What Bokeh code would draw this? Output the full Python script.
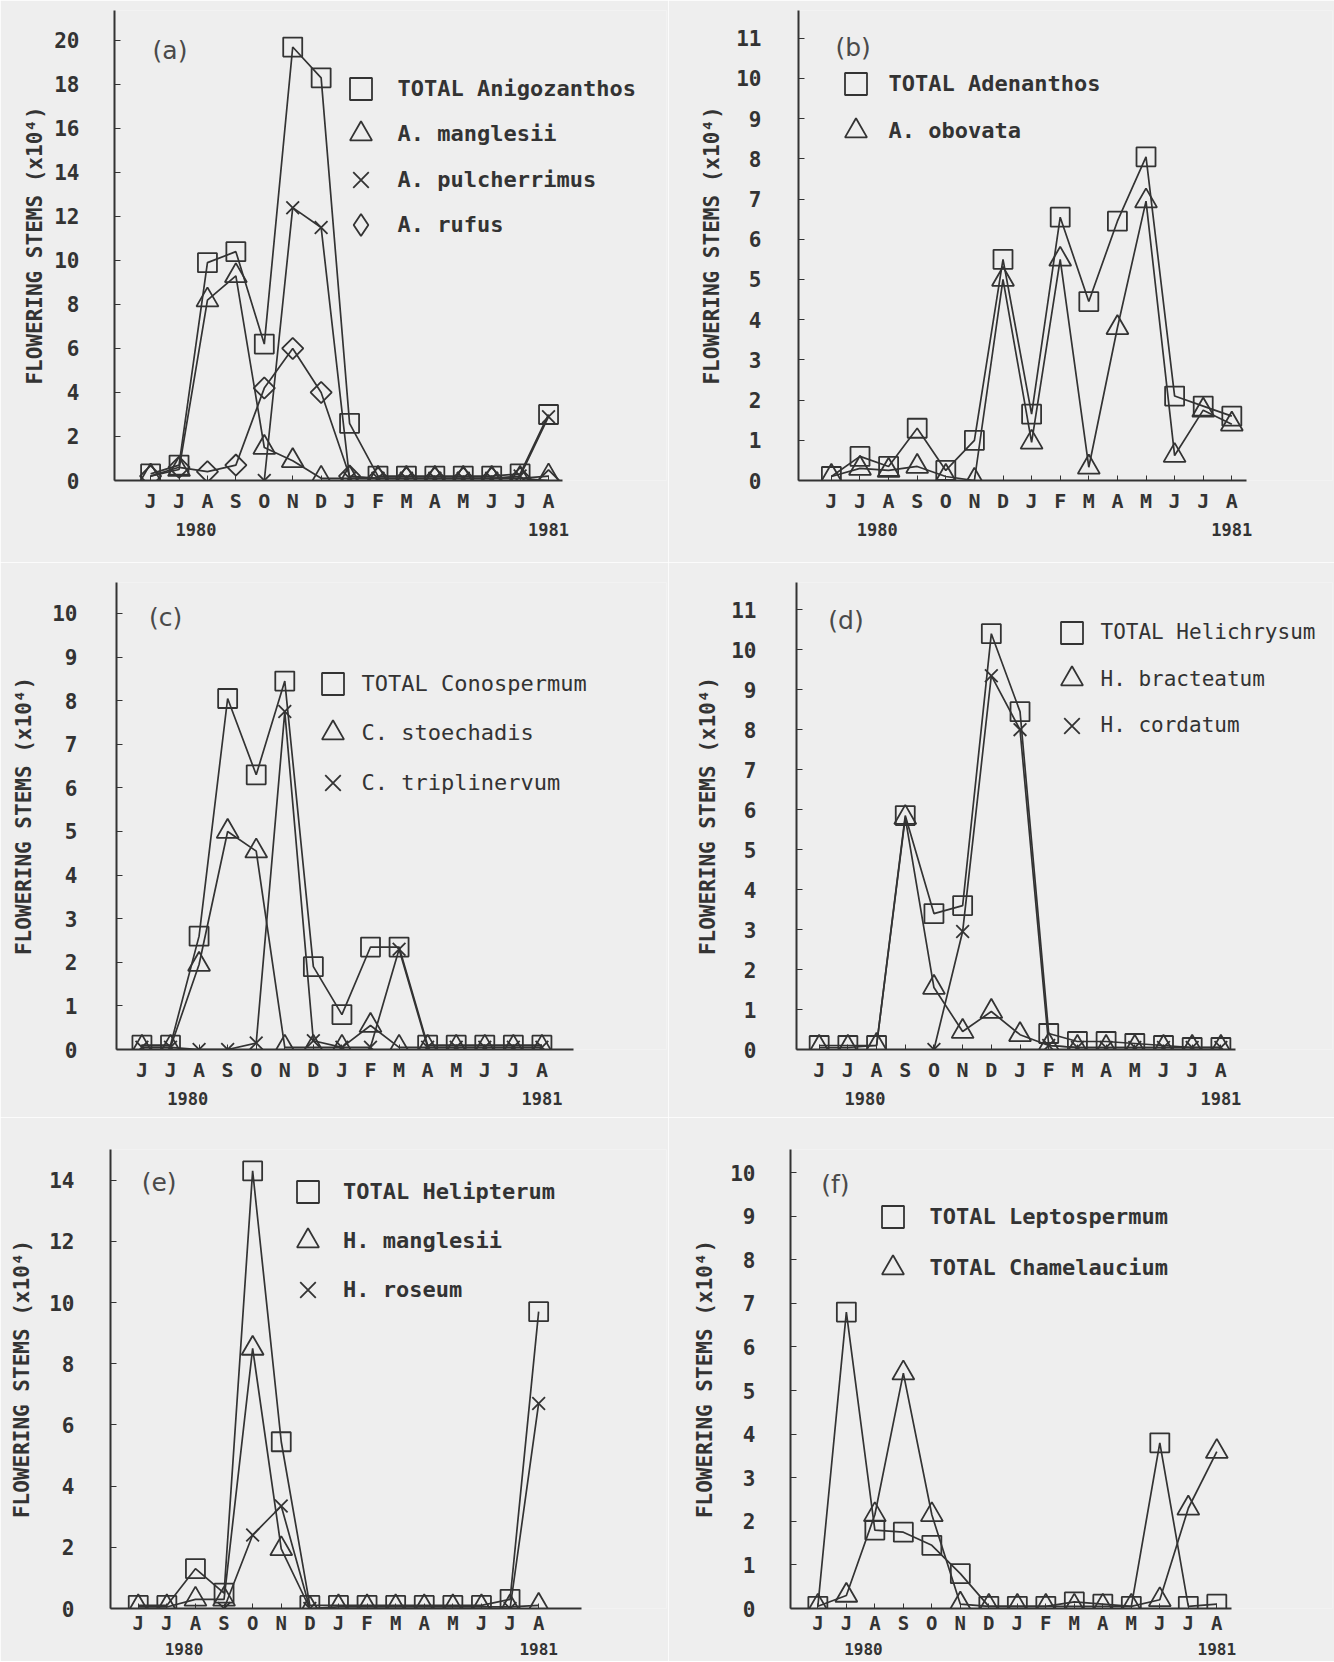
import numpy as np
from bokeh.plotting import figure
from bokeh.models import Range1d, FixedTicker, LinearAxis, Legend, LegendItem, Label
from bokeh.layouts import column, row
from bokeh.embed import file_html
from bokeh.resources import INLINE

# ---------------- data ----------------
months = ["J", "J", "A", "S", "O", "N", "D", "J", "F", "M", "A", "M", "J", "J", "A"]
year_ticks = [1.6, 14]
year_labels = ["1980", "1981"]
x = list(range(len(months)))

# (a) Anigozanthos
anig_total = [0.3, 0.7, 9.9, 10.4, 6.2, 19.7, 18.3, 2.6, 0.2, 0.2, 0.2, 0.2, 0.2, 0.3, 3.0]
anig_manglesii = [0.2, 0.5, 8.2, 9.3, 1.5, 0.9, 0.1, 0.1, 0.1, 0.1, 0.1, 0.1, 0.1, 0.1, 0.2]
anig_pulcherrimus = [None, None, None, None, 0.0, 12.4, 11.5, 0.1, 0.1, 0.1, 0.1, 0.1, 0.1, 0.2, 2.9]
anig_rufus = [0.2, 0.6, 0.4, 0.7, 4.2, 6.0, 4.0, 0.2, 0.1, 0.1, 0.1, 0.1, 0.1, 0.1, 0.0]

# (b) Adenanthos
aden_total = [0.1, 0.6, 0.35, 1.3, 0.25, 1.0, 5.5, 1.65, 6.55, 4.45, 6.45, 8.05, 2.1, 1.85, 1.6]
aden_obovata = [0.1, 0.3, 0.25, 0.35, 0.1, 0.0, 5.0, 0.95, 5.5, 0.33, 3.8, 6.95, 0.62, 1.75, 1.4]

# (c) Conospermum
cono_total = [0.1, 0.1, 2.6, 8.05, 6.3, 8.45, 1.9, 0.8, 2.35, 2.35, 0.1, 0.1, 0.1, 0.1, 0.1]
cono_stoechadis = [0.05, 0.05, 1.95, 5.0, 4.55, 0.05, 0.05, 0.05, 0.55, 0.05, 0.05, 0.05, 0.05, 0.05, 0.05]
cono_triplinervum = [0.05, 0.05, 0.0, 0.0, 0.15, 7.75, 0.2, 0.05, 0.05, 2.3, 0.05, 0.05, 0.05, 0.05, 0.05]

# (d) Helichrysum
heli_total = [0.1, 0.1, 0.1, 5.85, 3.4, 3.6, 10.4, 8.45, 0.4, 0.2, 0.2, 0.15, 0.1, 0.05, 0.05]
heli_bracteatum = [0.05, 0.05, 0.1, 5.8, 1.55, 0.45, 0.95, 0.37, 0.1, 0.05, 0.05, 0.05, 0.05, 0.05, 0.05]
heli_cordatum = [None, None, None, None, 0.0, 2.95, 9.35, 8.0, 0.1, 0.05, 0.05, 0.05, 0.05, 0.05, 0.05]

# (e) Helipterum
help_total = [0.1, 0.1, 1.3, 0.5, 14.3, 5.45, 0.1, 0.1, 0.1, 0.1, 0.1, 0.1, 0.1, 0.3, 9.7]
help_manglesii = [0.05, 0.05, 0.3, 0.3, 8.5, 1.95, 0.0, 0.05, 0.05, 0.05, 0.05, 0.05, 0.05, 0.05, 0.1]
help_roseum = [None, None, None, 0.0, 2.4, 3.35, 0.0, None, None, None, None, None, None, 0.0, 6.7]

# (f) Leptospermum / Chamelaucium
lepto_total = [0.05, 6.8, 1.8, 1.75, 1.45, 0.8, 0.05, 0.05, 0.05, 0.15, 0.1, 0.05, 3.8, 0.05, 0.1]
chamel_total = [0.05, 0.3, 2.15, 5.4, 2.15, 0.1, 0.05, 0.05, 0.05, 0.05, 0.05, 0.05, 0.2, 2.3, 3.6]

# ---------------- style ----------------
INK = "#333333"
BG = "#eeeeee"
MONO = "DejaVu Sans Mono"
MARKERS = {
    "square": dict(marker="square", size=19, angle=0.0),
    "triangle": dict(marker="triangle", size=22, angle=0.0),
    "x": dict(marker="x", size=18, angle=0.0),
    "diamond": dict(marker="square", size=15, angle=np.pi / 4),
}
GLYPH = 55  # legend glyph box -> key marker ~22px


def to_arr(vals):
    return np.array([np.nan if v is None else v for v in vals], dtype=float)


def build(letter, series, yticks, g):
    p = figure(width=g["w"], height=g["h"],
               x_range=Range1d(*g["xr"]), y_range=Range1d(0, g["ytop"]),
               output_backend="svg", toolbar_location=None,
               min_border_left=g["bl"], min_border_right=g["br"],
               min_border_top=g["bt"], min_border_bottom=g["bb"],
               background_fill_color=BG, border_fill_color=BG,
               outline_line_color=None)
    p.xgrid.visible = False
    p.ygrid.visible = False

    xa = p.xaxis[0]
    xa.ticker = FixedTicker(ticks=x)
    xa.bounds = (g["xr"][0], g["xend"])
    xa.major_label_overrides = {i: m for i, m in zip(x, months)}
    xa.axis_line_color = INK
    xa.axis_line_width = 2
    xa.major_tick_in = 5
    xa.major_tick_out = 0
    xa.major_tick_line_color = INK
    xa.minor_tick_line_color = None
    xa.major_label_standoff = g.get("xso", 8)
    xa.major_label_text_font = MONO
    xa.major_label_text_font_style = "bold"
    xa.major_label_text_font_size = g.get("xfs", "20px")
    xa.major_label_text_color = INK

    yr = LinearAxis(ticker=FixedTicker(ticks=year_ticks),
                    major_label_overrides={t: s for t, s in zip(year_ticks, year_labels)},
                    axis_line_color=None, major_tick_line_color=None,
                    minor_tick_line_color=None, major_label_standoff=g.get("yrso", 1),
                    major_label_text_font=MONO, major_label_text_font_style="bold",
                    major_label_text_font_size=g.get("yrfs", "17px"), major_label_text_color=INK)
    p.add_layout(yr, "below")

    ya = p.yaxis[0]
    ya.ticker = FixedTicker(ticks=yticks)
    ya.axis_line_color = INK
    ya.axis_line_width = 2
    ya.major_tick_in = 6
    ya.major_tick_out = 0
    ya.major_tick_line_color = INK
    ya.minor_tick_line_color = None
    ya.major_label_standoff = g["yso"]
    ya.major_label_text_font = MONO
    ya.major_label_text_font_style = "bold"
    ya.major_label_text_font_size = "21px"
    ya.major_label_text_color = INK
    ya.axis_label = "FLOWERING STEMS (x10\u2074)"
    ya.axis_label_standoff = g["ylso"]
    ya.axis_label_text_font = MONO
    ya.axis_label_text_font_style = "bold"
    ya.axis_label_text_font_size = "21px"
    ya.axis_label_text_color = INK

    for vals, kind, label in series:
        p.line(x, to_arr(vals), line_color=INK, line_width=1.7)

    # key: one single-entry legend per series, so each row sits where the reference puts it
    cx, c1, pitch, tx = g["leg"]
    fl, fb = g["fl"], g["fb"]
    for i, (vals, kind, label) in enumerate(series):
        st = MARKERS[kind]
        r = p.scatter(x, to_arr(vals), marker=st["marker"], size=st["size"], angle=st["angle"],
                      fill_alpha=0, line_color=INK, line_width=1.8)
        if kind == "diamond":
            # legend-only renderer (no visible data) so the key shows a diamond
            r = p.scatter([0], [np.nan], marker="diamond", size=20, fill_alpha=0,
                          line_color=INK, line_width=1.8)
        cy = c1 + i * pitch
        leg = Legend(items=[LegendItem(label=label, renderers=[r])],
                     location=(cx - GLYPH / 2 - fl, fb - (cy + GLYPH / 2)),
                     glyph_width=GLYPH, glyph_height=GLYPH,
                     label_standoff=max(0, int(round(tx - (cx + GLYPH / 2)))),
                     spacing=0, padding=0, margin=0,
                     background_fill_alpha=0, border_line_alpha=0,
                     label_text_font=MONO, label_text_font_size=g.get("lfs", "22px"),
                     label_text_font_style=g.get("lstyle", "bold"), label_text_color=INK,
                     label_height=10)
        p.add_layout(leg)

    p.add_layout(Label(x=g["px"], y=g["py"], text="(" + letter + ")", text_font="DejaVu Sans",
                       text_font_size="25px", text_baseline="top", text_color="#4a4a4a"))
    return p


# Frames in one row share top/bottom (Bokeh aligns them): row0 10..480, row1 582..1049, row2 1149..1608
# leg = (key centre x, first row centre y, row pitch, text start x) in page px
pa = build("a", [(anig_total, "square", "TOTAL Anigozanthos"),
                 (anig_manglesii, "triangle", "A. manglesii"),
                 (anig_pulcherrimus, "x", "A. pulcherrimus"),
                 (anig_rufus, "diamond", "A. rufus")],
           list(range(0, 21, 2)),
           dict(w=668, h=562, bl=114, br=2, bt=10, bb=82, xr=(-1.27, 18.15), xend=14.5,
                ytop=21.36, yso=35, ylso=4, leg=(360, 88, 45.5, 397), fl=114, fb=480,
                px=0.07, py=20.2))

pb = build("b", [(aden_total, "square", "TOTAL Adenanthos"),
                 (aden_obovata, "triangle", "A. obovata")],
           list(range(0, 12)),
           dict(w=666, h=562, bl=130, br=2, bt=10, bb=82, xr=(-1.15, 17.52), xend=14.5,
                ytop=11.69, yso=37, ylso=9, leg=(855, 83, 47, 888.6), fl=798, fb=480,
                px=0.14, py=11.12))

pc = build("c", [(cono_total, "square", "TOTAL Conospermum"),
                 (cono_stoechadis, "triangle", "C. stoechadis"),
                 (cono_triplinervum, "x", "C. triplinervum")],
           list(range(0, 11)),
           dict(w=668, h=555, bl=116, br=2, bt=20, bb=68, xr=(-0.89, 18.36), xend=15.1,
                ytop=10.71, yso=39, ylso=13, leg=(332, 683, 49.5, 361), fl=116, fb=1049,
                px=0.25, py=10.25, lstyle="normal"))

pd_ = build("d", [(heli_total, "square", "TOTAL Helichrysum"),
                  (heli_bracteatum, "triangle", "H. bracteatum"),
                  (heli_cordatum, "x", "H. cordatum")],
            list(range(0, 12)),
            dict(w=666, h=555, bl=128, br=2, bt=20, bb=68, xr=(-0.79, 17.89), xend=14.5,
                 ytop=11.68, yso=40, ylso=8, leg=(1071, 632, 46.5, 1100), fl=796, fb=1049,
                 px=0.32, py=11.1, lstyle="normal", lfs="21px"))

pe = build("e", [(help_total, "square", "TOTAL Helipterum"),
                 (help_manglesii, "triangle", "H. manglesii"),
                 (help_roseum, "x", "H. roseum")],
           list(range(0, 15, 2)),
           dict(w=668, h=544, bl=110, br=2, bt=32, bb=53, xr=(-0.97, 18.47), xend=15.5,
                ytop=15.0, yso=36, ylso=12, leg=(307.5, 1191.7, 49, 343), fl=110, fb=1608,
                px=0.12, py=14.4, xso=3, yrso=0, xfs="19px", yrfs="16px"))

pf = build("f", [(lepto_total, "square", "TOTAL Leptospermum"),
                 (chamel_total, "triangle", "TOTAL Chamelaucium")],
           list(range(0, 11)),
           dict(w=666, h=544, bl=122, br=2, bt=32, bb=53, xr=(-0.96, 18.06), xend=14.5,
                ytop=10.53, yso=35, ylso=10, leg=(892, 1216, 51, 929.6), fl=790, fb=1608,
                px=0.12, py=10.05, xso=3, yrso=0, xfs="19px", yrfs="16px"))

layout = column(row(pa, pb), row(pc, pd_), row(pe, pf))

open("out.html", "w").write(file_html(layout, INLINE, "Flowering stems"))
